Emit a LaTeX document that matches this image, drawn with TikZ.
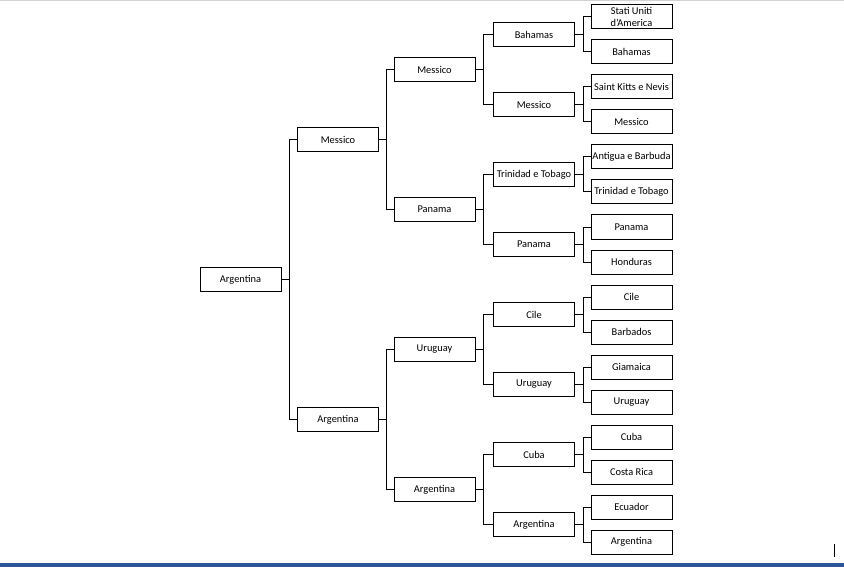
\documentclass[tikz,border=0pt]{standalone}
\usepackage{fontspec}
\setmainfont{Carlito}
\usepackage{tikz}

\definecolor{wordblue}{RGB}{43,87,154}
\tikzset{
  team/.style={draw, line width=1pt, minimum width=81pt, minimum height=24pt,
    inner sep=0.5pt, align=center, font=\fontsize{10.4}{12}\selectfont},
  link/.style={line width=1pt},
}

\begin{document}
\begin{tikzpicture}[x=1pt,y=-1pt]
  \useasboundingbox (0,0) rectangle (844,567);
  %% page frame
  \draw[gray!35, line width=1pt] (0,0.5) -- (844,0.5);
  \fill[wordblue] (0,563) rectangle (844,567);
  \draw[line width=0.8pt] (834,544) -- (834,557);

  \node[team] (1) at (240.5,279.5) {Argentina};

  \node[team] (2) at (338,139.5) {Messico};
  \node[team] (3) at (338,419.5) {Argentina};

  \node[team] (4) at (434.5,69.5) {Messico};
  \node[team] (5) at (434.5,209.5) {Panama};
  \node[team] (6) at (434.5,349.5) {Uruguay};
  \node[team] (7) at (434.5,489.5) {Argentina};

  \node[team] (8) at (534,34.5) {Bahamas};
  \node[team] (9) at (534,104.5) {Messico};
  \node[team] (10) at (534,174.5) {Trinidad e Tobago};
  \node[team] (11) at (534,244.5) {Panama};
  \node[team] (12) at (534,314.5) {Cile};
  \node[team] (13) at (534,384.5) {Uruguay};
  \node[team] (14) at (534,454.5) {Cuba};
  \node[team] (15) at (534,524.5) {Argentina};

  \node[team] (16) at (631.5,17) {Stati Uniti\\d'America};
  \node[team] (17) at (631.5,52) {Bahamas};
  \node[team] (18) at (631.5,87) {Saint Kitts e Nevis};
  \node[team] (19) at (631.5,122) {Messico};
  \node[team] (20) at (631.5,157) {Antigua e Barbuda};
  \node[team] (21) at (631.5,192) {Trinidad e Tobago};
  \node[team] (22) at (631.5,227) {Panama};
  \node[team] (23) at (631.5,262) {Honduras};
  \node[team] (24) at (631.5,297) {Cile};
  \node[team] (25) at (631.5,332) {Barbados};
  \node[team] (26) at (631.5,367) {Giamaica};
  \node[team] (27) at (631.5,402) {Uruguay};
  \node[team] (28) at (631.5,437) {Cuba};
  \node[team] (29) at (631.5,472) {Costa Rica};
  \node[team] (30) at (631.5,507) {Ecuador};
  \node[team] (31) at (631.5,542) {Argentina};

  \draw[link] (1.east) -- ++(8,0) |- (2.west);
  \draw[link] (1.east) -- ++(8,0) |- (3.west);

  \draw[link] (2.east) -- ++(7.5,0) |- (4.west);
  \draw[link] (2.east) -- ++(7.5,0) |- (5.west);
  \draw[link] (3.east) -- ++(7.5,0) |- (6.west);
  \draw[link] (3.east) -- ++(7.5,0) |- (7.west);

  \draw[link] (4.east) -- ++(8,0) |- (8.west);
  \draw[link] (4.east) -- ++(8,0) |- (9.west);
  \draw[link] (5.east) -- ++(8,0) |- (10.west);
  \draw[link] (5.east) -- ++(8,0) |- (11.west);
  \draw[link] (6.east) -- ++(8,0) |- (12.west);
  \draw[link] (6.east) -- ++(8,0) |- (13.west);
  \draw[link] (7.east) -- ++(8,0) |- (14.west);
  \draw[link] (7.east) -- ++(8,0) |- (15.west);

  \draw[link] (8.east) -- ++(8,0) |- (16.west);
  \draw[link] (8.east) -- ++(8,0) |- (17.west);
  \draw[link] (9.east) -- ++(8,0) |- (18.west);
  \draw[link] (9.east) -- ++(8,0) |- (19.west);
  \draw[link] (10.east) -- ++(8,0) |- (20.west);
  \draw[link] (10.east) -- ++(8,0) |- (21.west);
  \draw[link] (11.east) -- ++(8,0) |- (22.west);
  \draw[link] (11.east) -- ++(8,0) |- (23.west);
  \draw[link] (12.east) -- ++(8,0) |- (24.west);
  \draw[link] (12.east) -- ++(8,0) |- (25.west);
  \draw[link] (13.east) -- ++(8,0) |- (26.west);
  \draw[link] (13.east) -- ++(8,0) |- (27.west);
  \draw[link] (14.east) -- ++(8,0) |- (28.west);
  \draw[link] (14.east) -- ++(8,0) |- (29.west);
  \draw[link] (15.east) -- ++(8,0) |- (30.west);
  \draw[link] (15.east) -- ++(8,0) |- (31.west);
\end{tikzpicture}
\end{document}
